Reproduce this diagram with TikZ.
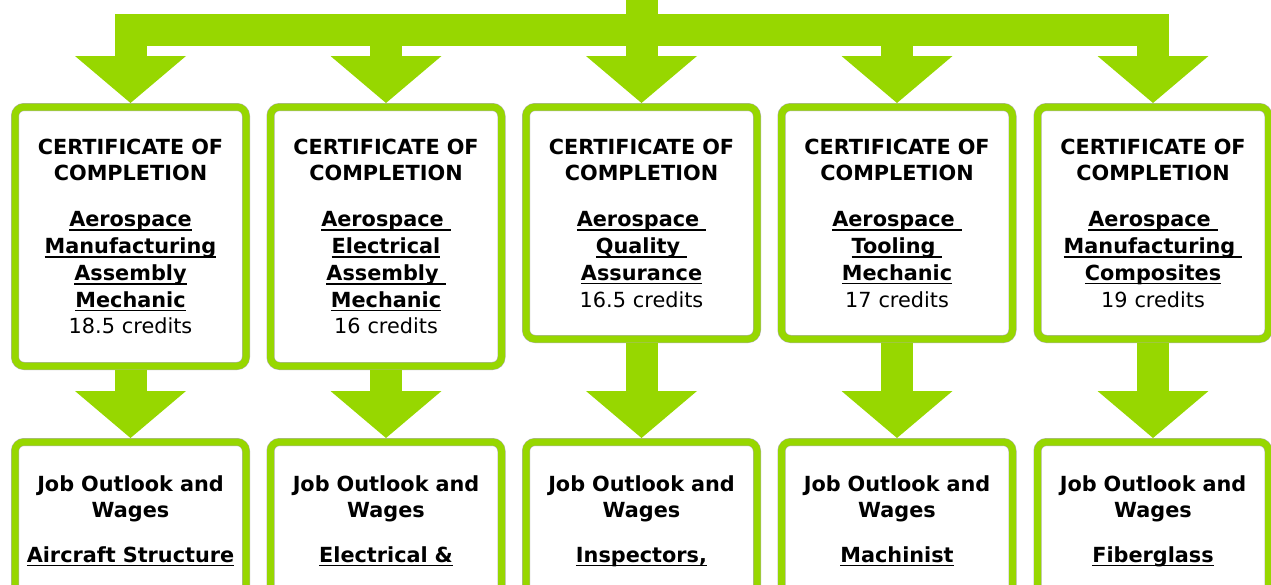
\documentclass[tikz,border=0pt]{standalone}
\usepackage{fontspec}
\setmainfont{DejaVu Sans}
\usetikzlibrary{positioning,arrows.meta}

\definecolor{leaf}{RGB}{151,215,0}
\definecolor{rim}{RGB}{175,175,175}
\newcommand{\undl}[1]{\setbox0\hbox{#1}\rlap{\rule[-4.2pt]{\wd0}{1.6pt}}\box0}
\newcommand{\ttl}[1]{\textbf{\undl{#1}}}

\begin{document}
\begin{tikzpicture}[
    x=1pt, y=-1pt,
    cert/.style={rectangle, rounded corners=9pt, draw=rim, line width=0.5pt, double=leaf, double distance=7pt, fill=white, minimum width=231pt, minimum height=259pt, text width=224pt, align=center, inner sep=0pt, outer sep=0pt, font=\fontsize{20.8}{26.8}\selectfont},
    job/.style={cert, minimum height=0pt, text height=49pt, text depth=200pt},
    trunk/.style={draw=leaf, line width=32pt, line cap=rect},
    arrow/.style={draw=leaf, line width=32pt, -{Triangle[width=111pt,length=47pt,line width=0pt]}, shorten >=4pt}
]
\useasboundingbox (0,0) rectangle (1271,584);
\clip (0,0) rectangle (1271,584);

% Certificates
\node (c1) [cert, anchor=north] at (130.5,107) {\textbf{CERTIFICATE OF}\\\textbf{COMPLETION}\\[19pt]\ttl{Aerospace}\\\ttl{Manufacturing}\\\ttl{Assembly}\\\ttl{Mechanic}\\18.5 credits};
\node (c2) [cert, anchor=north] at (386,107) {\textbf{CERTIFICATE OF}\\\textbf{COMPLETION}\\[19pt]\ttl{Aerospace\ }\\\ttl{Electrical}\\\ttl{Assembly\ }\\\ttl{Mechanic}\\16 credits};
\node (c3) [cert, anchor=north, minimum height=232pt] at (641.5,107) {\textbf{CERTIFICATE OF}\\\textbf{COMPLETION}\\[19pt]\ttl{Aerospace\ }\\\ttl{Quality\ }\\\ttl{Assurance}\\16.5 credits};
\node (c4) [cert, anchor=north, minimum height=232pt] at (897,107) {\textbf{CERTIFICATE OF}\\\textbf{COMPLETION}\\[19pt]\ttl{Aerospace\ }\\\ttl{Tooling\ }\\\ttl{Mechanic}\\17 credits};
\node (c5) [cert, anchor=north, minimum height=232pt] at (1153,107) {\textbf{CERTIFICATE OF}\\\textbf{COMPLETION}\\[19pt]\ttl{Aerospace\ }\\\ttl{Manufacturing\ }\\\ttl{Composites}\\19 credits};

% Jobs
\node (j1) [job, below=76pt of c1] {\textbf{Job Outlook and}\\\textbf{Wages}\\[17.5pt]\ttl{Aircraft Structure}};
\node (j2) [job, below=76pt of c2] {\textbf{Job Outlook and}\\\textbf{Wages}\\[17.5pt]\ttl{Electrical \&}};
\node (j3) [job, below=103pt of c3] {\textbf{Job Outlook and}\\\textbf{Wages}\\[17.5pt]\ttl{Inspectors,}};
\node (j4) [job, below=103pt of c4] {\textbf{Job Outlook and}\\\textbf{Wages}\\[17.5pt]\ttl{Machinist}};
\node (j5) [job, below=103pt of c5] {\textbf{Job Outlook and}\\\textbf{Wages}\\[17.5pt]\ttl{Fiberglass}};

% Trunk
\coordinate (src) at (641.5,0);
\coordinate (hub) at (641.5,30);
\draw[trunk] (src) -- (hub);
\draw[trunk] (c1.north |- hub) -- (c5.north |- hub);

% Arrows
\draw[arrow, line cap=rect] (c1.north |- hub) -- (c1.north);
\draw[arrow, line cap=rect] (c2.north |- hub) -- (c2.north);
\draw[arrow, line cap=rect] (c3.north |- hub) -- (c3.north);
\draw[arrow, line cap=rect] (c4.north |- hub) -- (c4.north);
\draw[arrow, line cap=rect] (c5.north |- hub) -- (c5.north);
\draw[arrow, shorten <=4pt] (c1.south) -- (j1.north);
\draw[arrow, shorten <=4pt] (c2.south) -- (j2.north);
\draw[arrow, shorten <=4pt] (c3.south) -- (j3.north);
\draw[arrow, shorten <=4pt] (c4.south) -- (j4.north);
\draw[arrow, shorten <=4pt] (c5.south) -- (j5.north);

\end{tikzpicture}
\end{document}
